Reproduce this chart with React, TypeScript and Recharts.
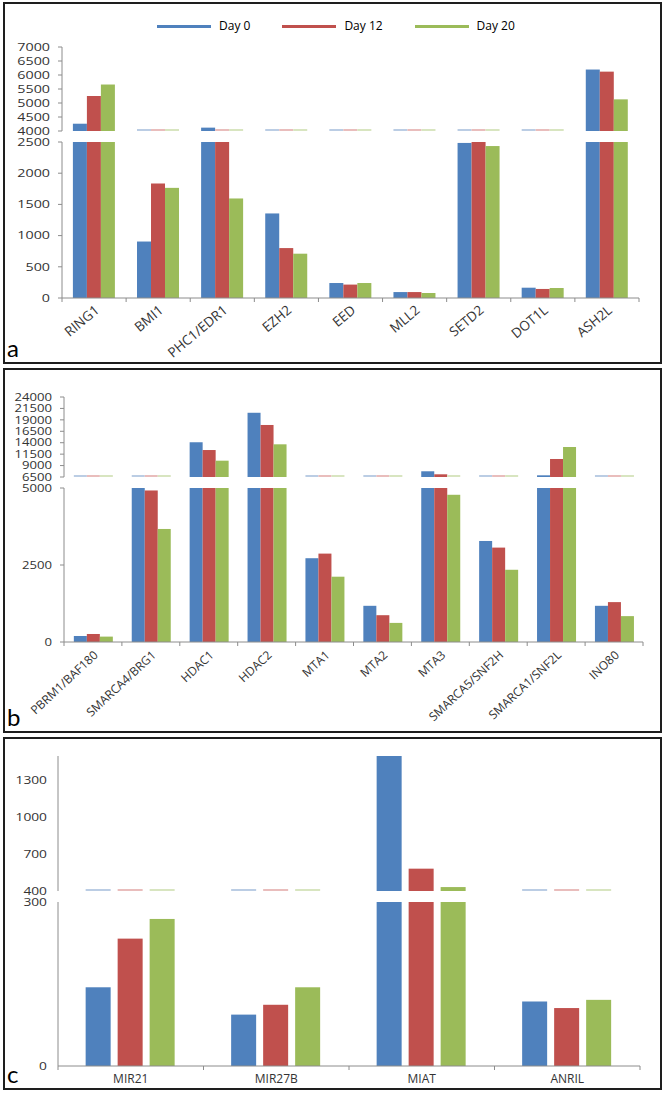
import { BarChart, Bar, XAxis, YAxis } from "recharts";

const seriesNames = ["Day 0", "Day 12", "Day 20"];
const seriesKeys = ["d0", "d12", "d20"];
const colors = ["#4F81BD", "#C0504D", "#9BBB59"];
const faint = ["#BBCDE4", "#E9BDBC", "#D8E5C0"];

// panel a
const genesA = ["RING1", "BMI1", "PHC1/EDR1", "EZH2", "EED", "MLL2", "SETD2", "DOT1L", "ASH2L"];
const day0A = [4260, 905, 4120, 1355, 240, 95, 2485, 165, 6195];
const day12A = [5250, 1835, 2700, 800, 215, 95, 2510, 145, 6120];
const day20A = [5660, 1765, 1595, 710, 240, 80, 2435, 160, 5130];
const ticksAHigh = [4000, 4500, 5000, 5500, 6000, 6500, 7000];
const ticksALow = [0, 500, 1000, 1500, 2000, 2500];

// panel b
const genesB = [
  "PBRM1/BAF180", "SMARCA4/BRG1", "HDAC1", "HDAC2", "MTA1",
  "MTA2", "MTA3", "SMARCA5/SNF2H", "SMARCA1/SNF2L", "INO80",
];
const day0B = [195, 5050, 14100, 20550, 2720, 1175, 7750, 3280, 6870, 1175];
const day12B = [260, 4920, 12400, 17880, 2870, 870, 7090, 3065, 10440, 1295];
const day20B = [175, 3670, 10070, 13650, 2120, 620, 4780, 2345, 13060, 840];
const ticksBHigh = [6500, 9000, 11500, 14000, 16500, 19000, 21500, 24000];
const ticksBLow = [0, 2500, 5000];

// panel c
const genesC = ["MIR21", "MIR27B", "MIAT", "ANRIL"];
const day0C = [144, 94, 1500, 118];
const day12C = [233, 112, 582, 106];
const day20C = [269, 144, 432, 121];
const ticksCHigh = [400, 700, 1000, 1300];
const ticksCLow = [0, 300];

const AXIS = "#8c8c8c";
const TXT = "#333";
const FONT = "'Open Sans', sans-serif";
const W = 666;

const toRows = (names: string[], a: number[], b: number[], c: number[]) =>
  names.map((name, i) => ({ name, d0: a[i], d12: b[i], d20: c[i] }));

const rowsA = toRows(genesA, day0A, day12A, day20A);
const rowsB = toRows(genesB, day0B, day12B, day20B);
const rowsC = toRows(genesC, day0C, day12C, day20C);

// bars below the segment's floor show as a faint line, bars above its ceiling get cut
function clipShape(key: string, lo: number, color: string, light: string) {
  return (p: any) => {
    const v = p.payload?.[key];
    const bottom = p.background ? p.background.y + p.background.height : p.y + p.height;
    if (v < lo) {
      return <rect x={p.x} y={bottom - 2} width={p.width} height={2} fill={light} />;
    }
    const top = p.background ? Math.max(p.y, p.background.y) : p.y;
    return <rect x={p.x} y={top} width={p.width} height={Math.max(0, bottom - top)} fill={color} />;
  };
}

// the source figure is stretched sideways, so the numbers are short and wide
function yTick(size: number, sx: number) {
  return (p: any) => (
    <text
      x={p.x}
      y={p.y}
      dy="0.35em"
      textAnchor="end"
      fontSize={size}
      fontFamily={FONT}
      fill={TXT}
      transform={`translate(${p.x},${p.y}) scale(${sx},1) translate(${-p.x},${-p.y})`}
    >
      {p.payload.value}
    </text>
  );
}

// category label with Excel style tick marks at the category edges
function catTick(n: number, half: number, angle: number, size: number, dx: number, dy: number) {
  return (p: any) => {
    const { x, y, payload, index } = p;
    return (
      <g>
        <line x1={x - half} x2={x - half} y1={y} y2={y + 4} stroke={AXIS} />
        {index === n - 1 && <line x1={x + half} x2={x + half} y1={y} y2={y + 4} stroke={AXIS} />}
        {angle ? (
          <text
            transform={`translate(${x + dx},${y + dy}) rotate(${angle})`}
            textAnchor="end"
            dy="0.35em"
            fontSize={size}
            fontFamily={FONT}
            fill={TXT}
          >
            {payload.value}
          </text>
        ) : (
          <text x={x} y={y + dy} textAnchor="middle" dy="0.35em" fontSize={size} fontFamily={FONT} fill={TXT}>
            {payload.value}
          </text>
        )}
      </g>
    );
  };
}

type SegProps = {
  rows: any[];
  top: number;
  height: number;
  mTop: number;
  plotH: number;
  yWidth: number;
  mRight: number;
  domain: [number, number];
  ticks: number[];
  yTickEl: any;
  yTickLine: boolean;
  catGap: string;
  barGap: number;
  xTick?: any;
};

function Segment(p: SegProps) {
  const below = p.height - p.mTop - p.plotH;
  return (
    <div style={{ position: "absolute", left: 0, top: p.top }}>
      <BarChart
        width={W}
        height={p.height}
        data={p.rows}
        margin={{ top: p.mTop, right: p.mRight, bottom: p.xTick ? 0 : below, left: 0 }}
        barGap={p.barGap}
        barCategoryGap={p.catGap}
      >
        <XAxis
          dataKey="name"
          hide={!p.xTick}
          height={p.xTick ? below : 0}
          axisLine={{ stroke: AXIS }}
          tickLine={false}
          tickSize={0}
          tickMargin={0}
          tick={p.xTick}
          interval={0}
        />
        <YAxis
          type="number"
          width={p.yWidth}
          domain={p.domain}
          ticks={p.ticks}
          allowDataOverflow
          interval={0}
          axisLine={{ stroke: AXIS }}
          tickLine={p.yTickLine ? { stroke: AXIS } : false}
          tickSize={4}
          tickMargin={p.yTickLine ? 8 : 7}
          tick={p.yTickEl}
        />
        {seriesKeys.map((k, i) => (
          <Bar
            key={k}
            dataKey={k}
            name={seriesNames[i]}
            fill={colors[i]}
            isAnimationActive={false}
            shape={clipShape(k, p.domain[0], colors[i], faint[i])}
          />
        ))}
      </BarChart>
    </div>
  );
}

const frame = (top: number, height: number) => (
  <div
    style={{
      position: "absolute",
      left: 3,
      top,
      width: 659,
      height,
      boxSizing: "border-box",
      border: "2px solid #1e1e1e",
    }}
  />
);

const letter = (ch: string, top: number) => (
  <div
    style={{
      position: "absolute",
      left: 7,
      top,
      fontSize: 24,
      lineHeight: "24px",
      fontFamily: "Lato, sans-serif",
      color: "#000",
    }}
  >
    {ch}
  </div>
);

export default function App() {
  const plotWA = W - 62 - 27;
  const plotWB = W - 64 - 23;
  const plotWC = W - 58 - 26;
  const tickA = yTick(11, 1.3);
  const tickB = yTick(10.5, 1.25);
  const tickC = yTick(11, 1.25);
  return (
    <div style={{ position: "absolute", left: 0, top: 0, width: W, height: 1100, background: "#fff" }}>
      {frame(2, 362)}
      {frame(368, 365)}
      {frame(737, 353)}

      <div
        style={{
          position: "absolute",
          left: 157,
          top: 18,
          display: "flex",
          alignItems: "center",
          fontFamily: FONT,
          fontSize: 12,
          lineHeight: "16px",
          color: "#000",
        }}
      >
        {seriesNames.map((s, i) => (
          <div key={s} style={{ display: "flex", alignItems: "center", marginRight: 32 }}>
            <span style={{ display: "inline-block", width: 54, height: 3, background: colors[i] }} />
            <span style={{ marginLeft: 8 }}>{s}</span>
          </div>
        ))}
      </div>

      {/* panel a */}
      <Segment rows={rowsA} top={30} height={110} mTop={17} plotH={84} yWidth={62} mRight={27}
        domain={[4000, 7000]} ticks={ticksAHigh} yTickEl={tickA} yTickLine catGap="17%" barGap={0} />
      <Segment rows={rowsA} top={130} height={240} mTop={12} plotH={156} yWidth={62} mRight={27}
        domain={[0, 2500]} ticks={ticksALow} yTickEl={tickA} yTickLine catGap="17%" barGap={0}
        xTick={catTick(genesA.length, plotWA / genesA.length / 2, -40, 13.5, 3, 10)} />
      {letter("a", 336)}

      {/* panel b */}
      <Segment rows={rowsB} top={380} height={110} mTop={17} plotH={80} yWidth={64} mRight={23}
        domain={[6500, 24000]} ticks={ticksBHigh} yTickEl={tickB} yTickLine catGap="17%" barGap={0} />
      <Segment rows={rowsB} top={476} height={262} mTop={12} plotH={154} yWidth={64} mRight={23}
        domain={[0, 5000]} ticks={ticksBLow} yTickEl={tickB} yTickLine catGap="17%" barGap={0}
        xTick={catTick(genesB.length, plotWB / genesB.length / 2, -43, 12, 3, 11)} />
      {letter("b", 705)}

      {/* panel c */}
      <Segment rows={rowsC} top={740} height={160} mTop={16} plotH={135} yWidth={58} mRight={26}
        domain={[400, 1500]} ticks={ticksCHigh} yTickEl={tickC} yTickLine={false} catGap="19%" barGap={7} />
      <Segment rows={rowsC} top={890} height={200} mTop={12} plotH={164} yWidth={58} mRight={26}
        domain={[0, 300]} ticks={ticksCLow} yTickEl={tickC} yTickLine={false} catGap="19%" barGap={7}
        xTick={catTick(genesC.length, plotWC / genesC.length / 2, 0, 12, 0, 13)} />
      {letter("c", 1062)}
    </div>
  );
}
